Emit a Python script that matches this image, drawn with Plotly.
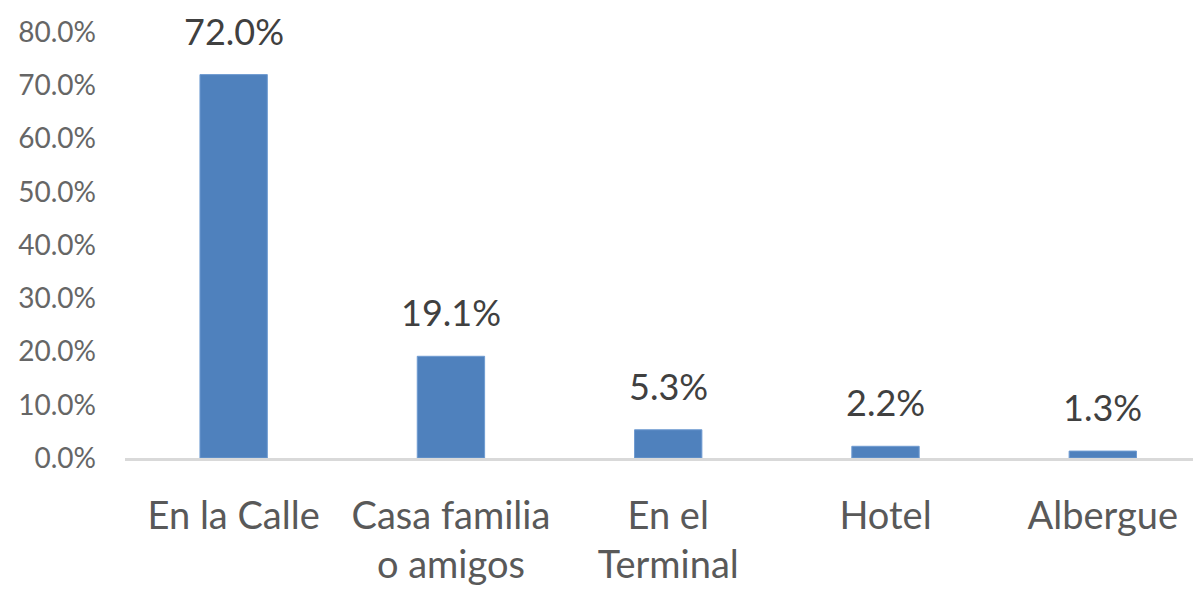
import plotly.graph_objects as go

categories = ["En la Calle", "Casa familia<br>o amigos", "En el<br>Terminal", "Hotel", "Albergue"]
values = [72.0, 19.1, 5.3, 2.2, 1.3]
value_labels = ["72.0%", "19.1%", "5.3%", "2.2%", "1.3%"]
tick_vals = [0, 10, 20, 30, 40, 50, 60, 70, 80]
tick_text = ["0.0%", "10.0%", "20.0%", "30.0%", "40.0%", "50.0%", "60.0%", "70.0%", "80.0%"]

FONT = "Lato"
GRAY = "#595959"

fig = go.Figure()
fig.add_trace(go.Bar(
    x=list(range(len(categories))), y=values,
    marker=dict(color="#4f81bd", line=dict(color="#6f9bd1", width=1)),
    width=0.31,
    hoverinfo="skip",
))

for i, (v, t) in enumerate(zip(values, value_labels)):
    fig.add_annotation(x=i, y=v, text=t, showarrow=False, yanchor="bottom",
                       yshift=20, font=dict(family=FONT, size=36, color="#404040"))

fig.update_layout(
    width=1193, height=583,
    margin=dict(l=117, r=0, t=24, b=133, autoexpand=False),
    paper_bgcolor="white", plot_bgcolor="white",
    showlegend=False,
    xaxis=dict(
        range=[-0.5, 4.452], automargin=False,
        tickmode="array", tickvals=list(range(len(categories))), ticktext=categories,
        showgrid=False, zeroline=False,
        showline=True, linecolor="#d9d9d9", linewidth=3,
        ticks="", ticklabelstandoff=22,
        tickfont=dict(family=FONT, size=38, color=GRAY),
    ),
    yaxis=dict(
        range=[0, 80], automargin=False,
        tickmode="array", tickvals=tick_vals, ticktext=tick_text,
        showgrid=False, zeroline=False, showline=False,
        ticks="", ticklabelstandoff=28,
        tickfont=dict(family=FONT, size=28, color="#666666"),
    ),
)

fig.write_html("out.html")
